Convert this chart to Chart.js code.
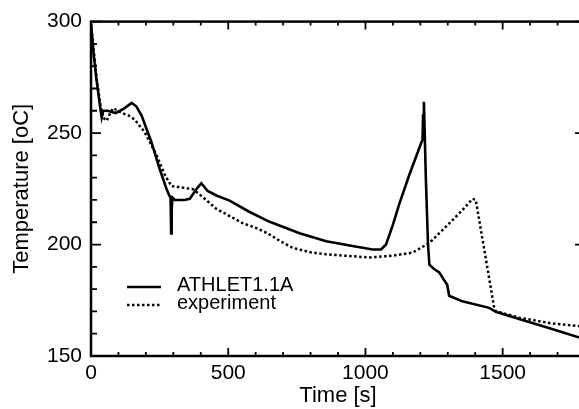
<!DOCTYPE html>
<html>
<head>
<meta charset="utf-8">
<script src="https://cdn.jsdelivr.net/npm/chart.js@4.4.1/dist/chart.umd.min.js"></script>
<style>
  html, body { margin: 0; padding: 0; background: #fff; overflow: hidden; }
  #wrap { width: 579px; height: 409px; overflow: hidden; }
  canvas { display: block; }
</style>
</head>
<body>
<div id="wrap"><canvas id="chart" width="600" height="409"></canvas></div>
<script>
// ATHLET1.1A calculation (solid)
const athletTime = [0, 10, 20, 33, 39, 45, 60, 90, 120, 148, 165, 184, 220, 250, 275, 285, 290, 292, 294, 297,
  305, 340, 360, 385, 402, 425, 457, 505, 578, 651, 760, 857, 953, 1026, 1057, 1075, 1099, 1124, 1160,
  1202, 1208, 1210, 1213, 1216, 1220, 1228, 1233, 1250, 1269, 1287, 1298, 1305, 1353, 1451, 1475, 1560, 1680, 1800];
const athletTemp = [299, 285, 274, 262, 257, 260, 260, 259, 261, 263.5, 262, 258, 246, 234, 225, 222, 221, 205, 216, 221,
  220, 220, 220.5, 225, 227.5, 224, 222, 219.7, 214.6, 210.2, 205.1, 201.5, 199.3, 197.8, 197.8, 200, 208.5, 218.5, 231.3,
  245.2, 247, 258, 264, 250, 230, 200, 191, 189, 187.5, 184, 182, 177, 174.5, 171.6, 169.8, 166.6, 162.1, 157.5];

// experiment (dotted)
const expTime = [0, 10, 20, 35, 44, 57, 70, 81, 112, 135, 160, 196, 239, 270, 293, 336, 372, 410, 457, 554, 600, 644,
  690, 735, 800, 857, 1015, 1100, 1172, 1233, 1293, 1350, 1390, 1402, 1420, 1439, 1469, 1475, 1560, 1680, 1800];
const expTemp = [299, 287, 275, 262, 257, 255.5, 259, 261.2, 259, 258, 256, 250.3, 240, 231, 226.2, 225.5, 224.8, 221, 216, 209.5, 207.5, 205,
  201.5, 198.5, 196.5, 195.6, 194.2, 195, 196.4, 200.7, 208, 215, 220.5, 220, 207, 193.5, 171.6, 170.1, 167.2, 164.6, 163.2];

const seriesNames = ['ATHLET1.1A', 'experiment'];
const xTicks = [0, 500, 1000, 1500];
const yTicks = [150, 200, 250, 300];

const toPoints = (xs, ys) => xs.map((x, i) => ({ x: x, y: ys[i] }));

const FONT = "'Liberation Sans', Arial, sans-serif";

// frame with inward ticks on all four sides, plus the legend inside the plot
const framePlugin = {
  id: 'frame',
  afterDraw(chart) {
    const { ctx, chartArea: a, scales } = chart;
    const xs = scales.x, ys = scales.y;
    ctx.save();
    ctx.strokeStyle = '#000';
    ctx.lineWidth = 2.5;
    ctx.strokeRect(a.left, a.top, a.right - a.left, a.bottom - a.top);

    ctx.lineWidth = 1.8;
    ctx.beginPath();
    for (let v = 0; v <= 1800; v += 100) {
      const px = xs.getPixelForValue(v);
      const len = v % 500 === 0 ? 8 : 4;
      ctx.moveTo(px, a.bottom); ctx.lineTo(px, a.bottom - len);
      ctx.moveTo(px, a.top); ctx.lineTo(px, a.top + len);
    }
    for (let v = 150; v <= 300; v += 10) {
      const py = ys.getPixelForValue(v);
      const len = v % 50 === 0 ? 10 : 6;
      ctx.moveTo(a.left, py); ctx.lineTo(a.left + len, py);
      ctx.moveTo(a.right, py); ctx.lineTo(a.right - len, py);
    }
    ctx.stroke();

    // legend
    const rows = [287, 305];
    chart.data.datasets.forEach((ds, i) => {
      const y = rows[i];
      ctx.beginPath();
      ctx.lineWidth = ds.borderWidth;
      ctx.setLineDash(ds.borderDash || []);
      ctx.moveTo(127, y); ctx.lineTo(161, y);
      ctx.stroke();
      ctx.setLineDash([]);
      ctx.fillStyle = '#000';
      ctx.font = '20px ' + FONT;
      ctx.textBaseline = 'middle';
      ctx.fillText(ds.label, 177, y - 2);
    });
    ctx.restore();
  }
};

new Chart(document.getElementById('chart'), {
  type: 'line',
  data: {
    datasets: [
      {
        label: seriesNames[0],
        data: toPoints(athletTime, athletTemp),
        borderColor: '#000',
        borderWidth: 2.6,
        pointRadius: 0,
        tension: 0
      },
      {
        label: seriesNames[1],
        data: toPoints(expTime, expTemp),
        borderColor: '#000',
        borderWidth: 2.5,
        borderDash: [2.5, 2.5],
        pointRadius: 0,
        tension: 0
      }
    ]
  },
  options: {
    responsive: false,
    animation: false,
    devicePixelRatio: 1,
    layout: { padding: { top: 13, right: 15, left: 0, bottom: 0 } },
    plugins: {
      legend: { display: false },
      tooltip: { enabled: false }
    },
    scales: {
      x: {
        type: 'linear',
        min: 0,
        max: 1800,
        grid: { display: false, drawTicks: false },
        border: { display: false },
        afterFit: s => { s.height = 53; },
        afterBuildTicks: s => { s.ticks = xTicks.map(v => ({ value: v })); },
        ticks: {
          color: '#000',
          font: { family: FONT, size: 21 },
          padding: 5,
          maxRotation: 0,
          callback: v => String(v)
        },
        title: {
          display: true,
          text: 'Time [s]',
          color: '#000',
          font: { family: FONT, size: 22 },
          padding: { top: 0, bottom: 0 }
        }
      },
      y: {
        min: 150,
        max: 300,
        grid: { display: false, drawTicks: false },
        border: { display: false },
        afterFit: s => { s.width = 91; },
        afterBuildTicks: s => { s.ticks = yTicks.map(v => ({ value: v })); },
        ticks: {
          color: '#000',
          font: { family: FONT, size: 21 },
          padding: 9,
          callback: v => String(v)
        },
        title: {
          display: true,
          text: 'Temperature [oC]',
          color: '#000',
          font: { family: FONT, size: 22 },
          padding: { top: 9, bottom: 0 }
        }
      }
    }
  },
  plugins: [framePlugin]
});
</script>
</body>
</html>
